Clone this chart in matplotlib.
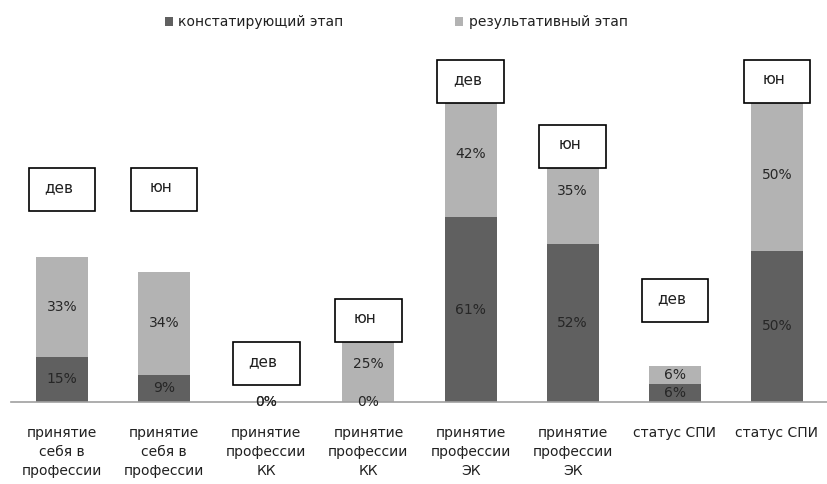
import matplotlib
matplotlib.use("Agg")
import matplotlib.pyplot as plt
from matplotlib.patches import Rectangle, Patch
import numpy as np

categories = ["принятие\nсебя в\nпрофессии", "принятие\nсебя в\nпрофессии",
              "принятие\nпрофессии\nКК", "принятие\nпрофессии\nКК",
              "принятие\nпрофессии\nЭК", "принятие\nпрофессии\nЭК",
              "статус СПИ", "статус СПИ"]
stage1 = [15, 9, 0, 0, 61, 52, 6, 50]     # констатирующий этап
stage2 = [33, 34, 0, 25, 42, 35, 6, 50]   # результативный этап
series_names = ["констатирующий этап", "результативный этап"]
group_labels = ["дев", "юн", "дев", "юн", "дев", "юн", "дев", "юн"]

# layout of the annotation boxes (bottom edge in axis units)
box_bottoms = [63.0, 63.0, 5.6, 19.8, 98.7, 77.2, 26.4, 98.7]

dark = "#606060"
light = "#b3b3b3"

plt.rcParams['font.family'] = ['DejaVu Sans']
W, H = 828, 484
fig = plt.figure(figsize=(W / 100, H / 100), dpi=100)
ax = fig.add_axes([11 / W, 82 / H, 817 / W, 402 / H])
px_per_unit = 3.03
ax.set_ylim(0, 402 / px_per_unit)
ax.set_xlim(-0.5, len(categories) - 0.5)

x = np.arange(len(categories))
bw = 0.51
ax.bar(x, stage1, bw, color=dark, zorder=2)
ax.bar(x, stage2, bw, bottom=stage1, color=light, zorder=2)

for i in range(len(x)):
    ax.text(x[i], stage1[i] / 2, f"{stage1[i]}%", ha="center", va="center",
            fontsize=10, color="#262626", zorder=3)
    ax.text(x[i], stage1[i] + stage2[i] / 2, f"{stage2[i]}%", ha="center",
            va="center", fontsize=10, color="#262626", zorder=3)

bxw = 0.65
bxh = 43 / px_per_unit
for i in range(len(x)):
    ax.add_patch(Rectangle((x[i] - bxw / 2, box_bottoms[i]), bxw, bxh,
                           facecolor="white", edgecolor="black", lw=1.2,
                           zorder=4, clip_on=False))
    ax.text(x[i] - 0.03, box_bottoms[i] + bxh / 2 + 0.6, group_labels[i],
            ha="center", va="center", fontsize=11, color="#202020", zorder=5)

for s in ["top", "right", "left"]:
    ax.spines[s].set_visible(False)
ax.spines["bottom"].set_color("#a0a0a0")
ax.spines["bottom"].set_linewidth(1.2)
ax.set_yticks([])
ax.set_xticks(x)
ax.set_xticklabels(categories, fontsize=10, color="#202020", linespacing=1.45,
                   va="top")
ax.tick_params(axis="x", length=0, pad=17)

handles = [Patch(facecolor=dark, edgecolor="none"),
           Patch(facecolor=light, edgecolor="none")]
fig.legend(handles, series_names, loc="center left",
           bbox_to_anchor=(152 / W, 1 - 22 / H), ncol=2, frameon=False,
           fontsize=10, handlelength=0.6, handleheight=0.6,
           handletextpad=0.4, columnspacing=8.0, labelcolor="#202020")

fig.savefig("out.png", dpi=100)
